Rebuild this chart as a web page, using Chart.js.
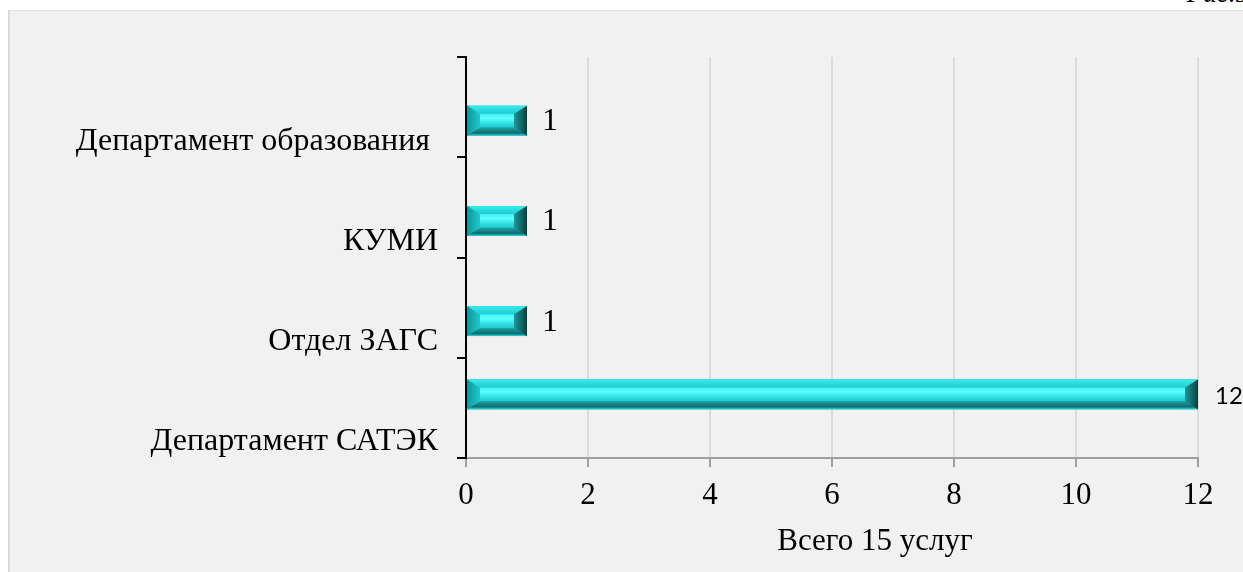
<!DOCTYPE html>
<html lang="ru">
<head>
<meta charset="utf-8">
<title>Услуги по подразделениям</title>
<script src="https://cdn.jsdelivr.net/npm/chart.js@4/dist/chart.umd.min.js"></script>
<style>
  html, body { margin: 0; padding: 0; background: #ffffff; overflow: hidden; }
  body { width: 1243px; height: 572px; position: relative; }
  .frame {
    position: absolute; left: 8px; top: 10px; width: 1250px; height: 580px;
    background: #f1f1f1; border-left: 2px solid #d9d9d9; border-top: 1px solid #e0e0e0;
  }
  .fig {
    position: absolute; right: -6px; top: -22px;
    font: italic 27px "Liberation Serif", serif; color: #000;
  }
  #chart { position: absolute; left: 0; top: 0; }
</style>
</head>
<body>
<div class="frame"></div>
<div class="fig">Рис.5</div>
<canvas id="chart" width="1243" height="572"></canvas>
<script>
// Подразделения (сверху вниз)
const departments = ['Департамент образования ', 'КУМИ', 'Отдел ЗАГС', 'Департамент САТЭК'];
// Число услуг: первая серия — САТЭК, вторая — остальные подразделения
const servicesSatek = [null, null, null, 12];
const servicesOther = [1, 1, 1, null];
// Деления горизонтальной оси
const axisMin = 0;
const axisMax = 12;
const axisStep = 2;
const axisCaption = 'Всего 15 услуг';

const SERIF = '"Liberation Serif", "Times New Roman", serif';
const SANS = 'Lato, "Open Sans", sans-serif';

// Объёмная «фаска» поверх каждого столбца
const bevelBars = {
  id: 'bevelBars',
  afterDatasetsDraw(chart) {
    const ctx = chart.ctx;
    chart.data.datasets.forEach((ds, di) => {
      const meta = chart.getDatasetMeta(di);
      meta.data.forEach((el, i) => {
        if (ds.data[i] == null) return;
        const p = el.getProps(['x', 'y', 'base', 'height'], true);
        const L = Math.min(p.base, p.x), R = Math.max(p.base, p.x);
        const T = p.y - p.height / 2, B = p.y + p.height / 2;
        const bx = Math.min(13, (R - L) / 2), by = 8;
        ctx.save();
        // лицевая грань
        let g = ctx.createLinearGradient(0, T, 0, B);
        g.addColorStop(0, '#1ec9cc');
        g.addColorStop(0.3, '#45f3f6');
        g.addColorStop(0.42, '#5cfdff');
        g.addColorStop(0.6, '#2bdfe2');
        g.addColorStop(0.8, '#1cb8bb');
        g.addColorStop(1, '#139093');
        ctx.fillStyle = g;
        ctx.fillRect(L, T, R - L, B - T);
        // верхняя грань
        g = ctx.createLinearGradient(0, T, 0, T + by);
        g.addColorStop(0, '#35ecef');
        g.addColorStop(1, '#1fcbce');
        ctx.fillStyle = g;
        ctx.beginPath();
        ctx.moveTo(L, T); ctx.lineTo(R, T); ctx.lineTo(R - bx, T + by); ctx.lineTo(L + bx, T + by);
        ctx.closePath(); ctx.fill();
        // нижняя грань
        g = ctx.createLinearGradient(0, B - by, 0, B);
        g.addColorStop(0, '#1aa3a6');
        g.addColorStop(0.7, '#106a6c');
        g.addColorStop(1, '#23dfe4');
        ctx.fillStyle = g;
        ctx.beginPath();
        ctx.moveTo(L, B); ctx.lineTo(R, B); ctx.lineTo(R - bx, B - by); ctx.lineTo(L + bx, B - by);
        ctx.closePath(); ctx.fill();
        // левая грань
        g = ctx.createLinearGradient(L, 0, L + bx, 0);
        g.addColorStop(0, '#10979a');
        g.addColorStop(1, '#20c8cb');
        ctx.fillStyle = g;
        ctx.beginPath();
        ctx.moveTo(L, T); ctx.lineTo(L + bx, T + by); ctx.lineTo(L + bx, B - by); ctx.lineTo(L, B);
        ctx.closePath(); ctx.fill();
        // правая грань
        g = ctx.createLinearGradient(R - bx, 0, R, 0);
        g.addColorStop(0, '#1a9a9c');
        g.addColorStop(1, '#073f40');
        ctx.fillStyle = g;
        ctx.beginPath();
        ctx.moveTo(R, T); ctx.lineTo(R - bx, T + by); ctx.lineTo(R - bx, B - by); ctx.lineTo(R, B);
        ctx.closePath(); ctx.fill();
        ctx.restore();
      });
    });
  }
};

// Подписи значений справа от столбцов
const valueLabels = {
  id: 'valueLabels',
  afterDatasetsDraw(chart) {
    const ctx = chart.ctx;
    chart.data.datasets.forEach((ds, di) => {
      const meta = chart.getDatasetMeta(di);
      meta.data.forEach((el, i) => {
        const v = ds.data[i];
        if (v == null) return;
        const p = el.getProps(['x', 'y'], true);
        ctx.save();
        ctx.font = ds.labelFont;
        ctx.fillStyle = '#000';
        ctx.textAlign = 'left';
        ctx.textBaseline = 'middle';
        ctx.fillText(String(v), p.x + ds.labelGap, p.y + ds.labelShift);
        ctx.restore();
      });
    });
  }
};

// Подпись горизонтальной оси
const axisTitle = {
  id: 'axisTitle',
  afterDraw(chart) {
    const ctx = chart.ctx;
    const a = chart.chartArea;
    ctx.save();
    ctx.font = '31px ' + SERIF;
    ctx.fillStyle = '#000';
    ctx.textAlign = 'center';
    ctx.textBaseline = 'middle';
    ctx.fillText(axisCaption, (a.left + a.right) / 2 + 43, 542);
    ctx.restore();
  }
};

new Chart(document.getElementById('chart'), {
  type: 'bar',
  data: {
    labels: departments,
    datasets: [
      {
        label: 'САТЭК',
        data: servicesSatek,
        backgroundColor: '#19c9cc',
        borderWidth: 0,
        labelFont: '24px ' + SANS,
        labelGap: 17,
        labelShift: 2
      },
      {
        label: 'Прочие',
        data: servicesOther,
        backgroundColor: '#19c9cc',
        borderWidth: 0,
        labelFont: '32px ' + SERIF,
        labelGap: 15,
        labelShift: 1
      }
    ]
  },
  options: {
    indexAxis: 'y',
    responsive: false,
    animation: false,
    devicePixelRatio: 1,
    categoryPercentage: 0.54,
    barPercentage: 1.1,
    layout: { padding: { left: 0, top: 57, right: 45, bottom: 0 } },
    plugins: {
      legend: { display: false },
      tooltip: { enabled: false }
    },
    scales: {
      x: {
        type: 'linear',
        min: axisMin,
        max: axisMax,
        afterFit(scale) { scale.height = 114; },
        ticks: {
          stepSize: axisStep,
          color: '#000',
          font: { family: SERIF, size: 31 },
          padding: 10
        },
        grid: {
          color: (c) => (c.tick && c.tick.value === 0 ? 'rgba(0,0,0,0)' : '#dcdcdc'),
          lineWidth: 2,
          tickColor: '#a0a0a0',
          tickLength: 9
        },
        border: { color: '#a0a0a0', width: 2 }
      },
      y: {
        type: 'category',
        offset: true,
        afterFit(scale) { scale.width = 466; },
        ticks: {
          color: '#000',
          font: { family: SERIF, size: 32 },
          padding: 19,
          labelOffset: 34
        },
        grid: {
          offset: true,
          drawOnChartArea: false,
          color: '#000',
          lineWidth: 2,
          tickLength: 9
        },
        border: { color: '#000', width: 2, z: 1 }
      }
    }
  },
  plugins: [bevelBars, valueLabels, axisTitle]
});
</script>
</body>
</html>
